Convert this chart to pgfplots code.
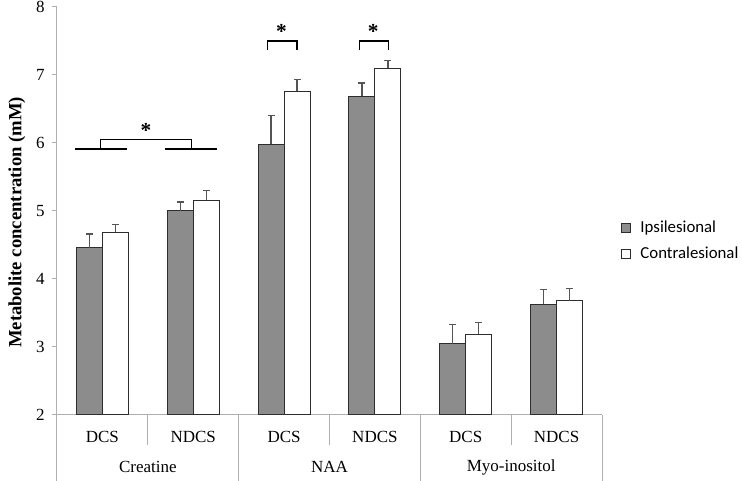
\documentclass[border=0pt]{standalone}
\usepackage{pgfplots}
\usepackage{pgfplotstable}
\pgfplotsset{compat=1.18}
\usepackage{fontspec}
\setmainfont{Liberation Serif}
\newfontfamily\carlito{Carlito}
\definecolor{barg}{RGB}{140,140,140}
\definecolor{edge}{RGB}{45,45,45}
\definecolor{errc}{RGB}{85,85,85}
\definecolor{axc}{RGB}{175,175,175}

\pgfplotstableread{
x ips ipserr con conerr
0 4.46 0.20 4.69 0.11
1 5.00 0.13 5.16 0.14
2 5.98 0.42 6.76 0.17
3 6.69 0.19 7.10 0.11
4 3.05 0.28 3.19 0.17
5 3.63 0.22 3.68 0.18
}\data

\begin{document}
\begin{tikzpicture}
\begin{axis}[name=ax, scale only axis, width=408.75pt, height=306pt,
  xmin=-0.5, xmax=5.5, ymin=2, ymax=8,
  axis x line*=bottom, axis y line*=left,
  axis line style={axc, line width=0.75pt},
  ytick={2,...,8}, ytick style={axc, line width=0.75pt},
  tick align=outside, major tick length=3.75pt,
  xtick={0,...,5}, xticklabels={DCS,NDCS,DCS,NDCS,DCS,NDCS},
  xtick style={draw=none},
  tick label style={font=\fontsize{12.75}{15}\selectfont},
  xticklabel style={anchor=center, yshift=-13pt},
  yticklabel style={xshift=-2pt},
  /pgf/number format/assume math mode=true,
  clip=false,
  ylabel={Metabolite concentration (mM)},
  ylabel style={font=\bfseries\fontsize{14}{16}\selectfont, at={(axis description cs:-0.0734,0.472)}, anchor=center},
  legend style={at={(axis description cs:1.035,0.4265)}, anchor=west, draw=none, fill=none,
    font=\carlito\fontsize{12.6}{14}\selectfont, row sep=5.5pt, column sep=5pt, inner sep=0pt, cells={anchor=west}},
  legend image code/.code={\draw[#1, line width=0.6pt] (0pt,-3.4pt) rectangle (6.75pt,3.4pt);},
]
\addplot[ybar, bar width=19.5pt, bar shift=0pt, fill=barg, draw=edge, line width=0.75pt,
  error bars/.cd, y dir=plus, y explicit,
  error bar style={errc, line width=1pt},
  error mark options={errc, rotate=90, mark size=2.6pt, line width=1pt}]
  table[x expr=\thisrow{x}-0.1431, y=ips, y error=ipserr]{\data};
\addlegendentry{Ipsilesional}
\addplot[ybar, bar width=19.5pt, bar shift=0pt, fill=white, draw=edge, line width=0.75pt,
  error bars/.cd, y dir=plus, y explicit,
  error bar style={errc, line width=1pt},
  error mark options={errc, rotate=90, mark size=2.6pt, line width=1pt}]
  table[x expr=\thisrow{x}+0.1431, y=con, y error=conerr]{\data};
\addlegendentry{Contralesional}

% significance brackets
\addplot[black, line width=1.1pt, sharp plot, forget plot] coordinates {(1.82,7.37) (1.82,7.50) (2.14,7.50) (2.14,7.37)};
\addplot[black, line width=1.1pt, sharp plot, forget plot] coordinates {(2.83,7.37) (2.83,7.50) (3.15,7.50) (3.15,7.37)};
\addplot[black, line width=1.1pt, sharp plot, forget plot] coordinates {(-0.30,5.91) (0.27,5.91)};
\addplot[black, line width=1.1pt, sharp plot, forget plot] coordinates {(-0.02,5.91) (-0.02,6.05) (0.98,6.05) (0.98,5.91)};
\addplot[black, line width=1.1pt, sharp plot, forget plot] coordinates {(0.69,5.91) (1.26,5.91)};

\node[font=\bfseries\fontsize{16}{16}\selectfont, anchor=base] at (axis cs:1.97,7.53) {*};
\node[font=\bfseries\fontsize{16}{16}\selectfont, anchor=base] at (axis cs:2.98,7.53) {*};
\node[font=\bfseries\fontsize{16}{16}\selectfont, anchor=base] at (axis cs:0.48,6.08) {*};

% category separators
\pgfplotsinvokeforeach{0.5,2.5,4.5}{\draw[axc, line width=0.75pt] (axis cs:#1,2) -- ++(0pt,-22.5pt);}
\pgfplotsinvokeforeach{-0.5,1.5,3.5,5.5}{\draw[axc, line width=0.75pt] (axis cs:#1,2) -- ++(0pt,-49.5pt);}
\node[font=\fontsize{12.75}{15}\selectfont] at ([yshift=-39pt]axis cs:0.5,2) {Creatine};
\node[font=\fontsize{12.75}{15}\selectfont] at ([yshift=-39pt]axis cs:2.5,2) {NAA};
\node[font=\fontsize{12.75}{15}\selectfont] at ([yshift=-39pt]axis cs:4.5,2) {Myo-inositol};
\end{axis}
\pgfresetboundingbox
\path[use as bounding box] ([shift={(-42.75pt,-49.5pt)}]ax.south west) rectangle ([shift={(513.75pt,311.25pt)}]ax.south west);
\end{tikzpicture}
\end{document}
